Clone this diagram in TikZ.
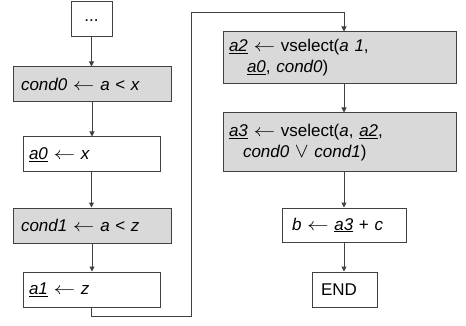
\documentclass[tikz,border=0pt]{standalone}
\usepackage{fontspec}
\setmainfont{Liberation Sans}
\usetikzlibrary{arrows.meta}
\definecolor{boxline}{HTML}{404040}
\definecolor{boxfill}{HTML}{D9D9D9}
% underlined italic variable name
\newcommand{\uv}[1]{\underline{\textit{#1}}}
% assignment arrow and logical or
\newcommand{\assign}{\scalebox{1.25}[1]{$\leftarrow$}}
\newcommand{\logor}{\scalebox{1.2}{$\vee$}}
\begin{document}
\begin{tikzpicture}[x=1pt,y=-1pt,
  base/.style={draw=boxline, line width=1pt, rectangle, inner ysep=0pt,
    font=\fontsize{17}{21}\selectfont, anchor=center, align=left},
  shaded/.style={base, fill=boxfill},
  plain/.style={base, fill=white},
  flow/.style={draw=boxline, line width=1pt, -{Triangle[length=5pt,width=5pt]}}]
\useasboundingbox (0,0) rectangle (466,326);

% left column
\node[plain, minimum width=41, minimum height=35, align=center, inner xsep=0pt] (dots) at (91.5,19.5) {\raisebox{-4pt}{...}};
\node[shaded, minimum width=158, minimum height=35, inner xsep=8pt, text width=142pt] (cond0) at (92,84.5)
  {\textit{cond0} \assign{} \textit{a} < \textit{x}};
\node[plain, minimum width=137, minimum height=35, inner xsep=6pt, text width=125pt] (a0) at (91.5,154.5)
  {\uv{a0} \assign{} \textit{x}};
\node[shaded, minimum width=158, minimum height=35, inner xsep=8pt, text width=142pt] (cond1) at (92,225.5)
  {\textit{cond1} \assign{} \textit{a} < \textit{z}};
\node[plain, minimum width=137, minimum height=35, inner xsep=6pt, text width=125pt] (a1) at (91.5,289.5)
  {\uv{a1} \assign{} \textit{z}};

% right column
\node[shaded, minimum width=233, minimum height=52, inner xsep=6pt, text width=221pt] (a2) at (339.5,58)
  {\raisebox{-2pt}{\uv{a2} \assign{} vselect(\textit{a 1},}\\\hspace*{18pt}\raisebox{-2pt}{\uv{a0}, \textit{cond0})}};
\node[shaded, minimum width=233, minimum height=59, inner xsep=6pt, text width=221pt] (a3) at (339.5,142.5)
  {\uv{a3} \assign{} vselect(\textit{a}, \uv{a2},\\\hspace*{14pt}\textit{cond0} \logor{} \textit{cond1})};
\node[plain, minimum width=124, minimum height=34, inner xsep=10pt, text width=104pt] (b) at (344,225)
  {\textit{b} \assign{} \uv{a3} + \textit{c}};
\node[plain, minimum width=65, minimum height=35, inner xsep=9pt, text width=47pt] (end) at (344.5,289.5)
  {END};

% connectors
\draw[flow] (dots.south) -- (dots.south |- cond0.north);
\draw[flow] (cond0.south) -- (cond0.south |- a0.north);
\draw[flow] (a0.south) -- (a0.south |- cond1.north);
\draw[flow] (cond1.south) -- (cond1.south |- a1.north);
\coordinate (loopbot) at (191,316);
\coordinate (looptop) at (191,13);
\draw[flow] (a1.south) |- (loopbot) -- (looptop) -| (a2.north -| b.north);
\draw[flow] (a2.south -| b.north) -- (a3.north -| b.north);
\draw[flow] (a3.south -| b.north) -- (b.north);
\draw[flow] (b.south) -- (b.south |- end.north);
\end{tikzpicture}
\end{document}
